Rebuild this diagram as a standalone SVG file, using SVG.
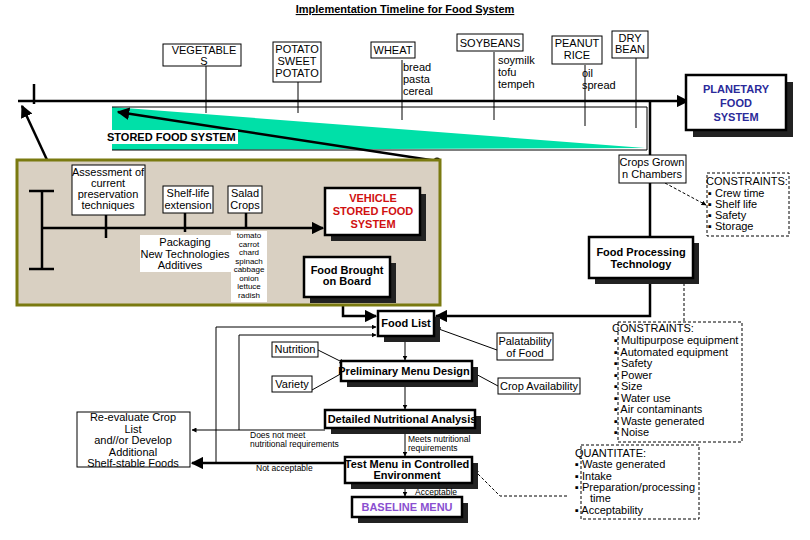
<svg xmlns="http://www.w3.org/2000/svg" width="810" height="540" viewBox="0 0 810 540">
<defs>
<marker id="ah" viewBox="0 0 10 10" refX="9" refY="5" markerWidth="5" markerHeight="5" orient="auto"><path d="M0,0L10,5L0,10z" fill="#000"/></marker>
<style>
text{font-family:"Liberation Sans",Arial,sans-serif;font-size:11px;fill:#000}
.b{font-weight:bold}
.box{fill:#fff;stroke:#000;stroke-width:1}
.tbox{fill:#fff;stroke:#000;stroke-width:2.5}
.sh{fill:#222}
.ln{stroke:#000;stroke-width:1;fill:none}
.th{stroke:#000;stroke-width:2.5;fill:none}
.da{stroke:#000;stroke-width:1;fill:none;stroke-dasharray:3,2}
.m{text-anchor:middle}
.sm{font-size:8px}
.lb{font-size:8.5px}
</style>
</defs>
<rect width="810" height="540" fill="#fff"/>
<text x="405" y="13" class="b m" font-size="12" text-decoration="underline">Implementation Timeline for Food System</text>

<g id="connectors">
<line x1="18" y1="101" x2="688" y2="101" class="th" marker-end="url(#ah)"/>
<line x1="34" y1="84" x2="34" y2="104" class="th"/>
<polygon points="112,107 645,148 112,150" fill="#00e0a8"/>
<polyline points="112,107 647,107 647,150 112,150" class="ln"/>
<line x1="206" y1="66" x2="206" y2="113" class="ln"/>
<line x1="298" y1="82" x2="298" y2="113" class="ln"/>
<line x1="402" y1="60" x2="402" y2="120" class="ln"/>
<line x1="494" y1="52" x2="494" y2="120" class="ln"/>
<line x1="585" y1="65" x2="585" y2="126" class="ln"/>
<line x1="636" y1="58" x2="636" y2="128" class="ln"/>
<line x1="437" y1="161" x2="118" y2="112" class="th" marker-end="url(#ah)"/>
<circle cx="437" cy="161" r="3.5"/>
<line x1="48" y1="162" x2="22" y2="106" class="th" marker-end="url(#ah)"/>
<line x1="650" y1="101" x2="650" y2="156" class="th"/>
<polyline points="650,183 650,316 436,316" class="th" marker-end="url(#ah)"/>
<line x1="665" y1="183" x2="706" y2="205" class="da" marker-end="url(#ah)"/>
<line x1="684" y1="278" x2="684" y2="322" class="da"/>
<polyline points="567,496 500,496 474,470" class="da" marker-end="url(#ah)"/>
<polyline points="343,297 343,316 376,316" class="th" marker-end="url(#ah)"/>
<line x1="343" y1="235" x2="343" y2="257" class="th"/>
<line x1="405" y1="338" x2="405" y2="360" class="ln" marker-end="url(#ah)"/>
<line x1="405" y1="381" x2="405" y2="409" class="ln" marker-end="url(#ah)"/>
<line x1="405" y1="428" x2="405" y2="456" class="ln" marker-end="url(#ah)"/>
<line x1="405" y1="483" x2="405" y2="496" class="ln" marker-end="url(#ah)"/>
<line x1="318" y1="350" x2="344" y2="363" class="ln" marker-end="url(#ah)"/>
<line x1="312" y1="390" x2="344" y2="372" class="ln" marker-end="url(#ah)"/>
<line x1="497" y1="350" x2="436" y2="328" class="ln" marker-end="url(#ah)"/>
<line x1="498" y1="386" x2="472" y2="372" class="ln" marker-end="url(#ah)"/>
<line x1="325" y1="430" x2="192" y2="430" class="ln" marker-end="url(#ah)"/>
<polyline points="239,430 239,335 376,335" class="ln" marker-end="url(#ah)"/>
<line x1="345" y1="463" x2="192" y2="463" class="th" marker-end="url(#ah)"/>
<polyline points="216,463 216,327 376,327" class="ln" marker-end="url(#ah)"/>
</g>

<g id="stored-label"><rect x="108" y="130" width="130" height="14" fill="#fff"/><text x="107" y="141" class="b">STORED FOOD SYSTEM</text></g>

<g id="veg"><rect x="163" y="44" width="78" height="22" class="box"/><text x="204" y="54" class="m">VEGETABLE</text><text x="204" y="65" class="m">S</text></g>
<g id="potato"><rect x="273" y="42" width="48" height="40" class="box"/><text x="297" y="53" class="m">POTATO</text><text x="297" y="65" class="m">SWEET</text><text x="297" y="77" class="m">POTATO</text></g>
<g id="wheat"><rect x="371" y="42" width="44" height="16" class="box"/><text x="393" y="54" class="m">WHEAT</text><text x="403" y="71">bread</text><text x="403" y="83">pasta</text><text x="403" y="95">cereal</text></g>
<g id="soy"><rect x="457" y="34" width="66" height="17" class="box"/><text x="490" y="47" class="m">SOYBEANS</text><text x="498" y="64">soymilk</text><text x="498" y="76">tofu</text><text x="498" y="88">tempeh</text></g>
<g id="peanut"><rect x="552" y="36" width="50" height="28" class="box"/><text x="577" y="47" class="m">PEANUT</text><text x="577" y="59" class="m">RICE</text><text x="582" y="77">oil</text><text x="582" y="89">spread</text></g>
<g id="drybean"><rect x="612" y="31" width="36" height="27" class="box"/><text x="630" y="42" class="m">DRY</text><text x="630" y="53" class="m">BEAN</text></g>
<g id="planetary"><rect x="693" y="82" width="100" height="55" class="sh"/><rect x="686" y="75" width="100" height="55" class="tbox"/><text x="736" y="93" class="b m" font-size="12" style="fill:#2a2a9a">PLANETARY</text><text x="736" y="107" class="b m" font-size="12" style="fill:#2a2a9a">FOOD</text><text x="736" y="121" class="b m" font-size="12" style="fill:#2a2a9a">SYSTEM</text></g>

<g id="panel">
<rect x="17" y="160" width="423" height="145" fill="#d9d0c2" stroke="#7a7a10" stroke-width="3"/>
<line x1="42" y1="191" x2="42" y2="269" class="th"/>
<line x1="29" y1="191" x2="54" y2="191" class="th"/>
<line x1="29" y1="269" x2="54" y2="269" class="th"/>
<line x1="42" y1="228" x2="323" y2="228" class="th" marker-end="url(#ah)"/>
<line x1="106" y1="215" x2="106" y2="238" class="th"/>
<line x1="185" y1="213" x2="185" y2="232" class="th"/>
<line x1="246" y1="213" x2="246" y2="228" class="th"/>
</g>
<g id="assess"><rect x="72" y="165" width="73" height="50" class="box"/><text x="108" y="176" class="m">Assessment of</text><text x="108" y="187" class="m">current</text><text x="108" y="198" class="m">preservation</text><text x="108" y="209" class="m">techniques</text></g>
<g id="shelf"><rect x="163" y="186" width="50" height="27" class="box"/><text x="188" y="197" class="m">Shelf-life</text><text x="188" y="209" class="m">extension</text></g>
<g id="salad"><rect x="228" y="186" width="34" height="27" class="box"/><text x="245" y="197" class="m">Salad</text><text x="245" y="209" class="m">Crops</text></g>
<g id="packaging"><rect x="140" y="235" width="92" height="37" fill="#fff"/><text x="185" y="246" class="m">Packaging</text><text x="185" y="258" class="m">New Technologies</text><text x="180" y="269" class="m">Additives</text></g>
<g id="saladlist"><rect x="231" y="231" width="36" height="71" fill="#fff"/>
<text x="249" y="238" class="m sm">tomato</text><text x="249" y="247" class="m sm">carrot</text><text x="249" y="255" class="m sm">chard</text><text x="249" y="264" class="m sm">spinach</text><text x="249" y="272" class="m sm">cabbage</text><text x="249" y="281" class="m sm">onion</text><text x="249" y="289" class="m sm">lettuce</text><text x="249" y="298" class="m sm">radish</text></g>
<g id="vehicle"><rect x="331" y="194" width="95" height="47" class="sh"/><rect x="325" y="188" width="95" height="47" class="tbox"/><text x="373" y="202" class="b m" font-size="12" style="fill:#d01010">VEHICLE</text><text x="373" y="215" class="b m" font-size="12" style="fill:#d01010">STORED FOOD</text><text x="373" y="228" class="b m" font-size="12" style="fill:#d01010">SYSTEM</text></g>
<g id="brought"><rect x="310" y="263" width="86" height="40" class="sh"/><rect x="304" y="257" width="86" height="40" class="tbox"/><text x="347" y="274" class="b m">Food  Brought</text><text x="347" y="285" class="b m">on Board</text></g>

<g id="crops"><rect x="619" y="155" width="67" height="28" class="box"/><text x="652" y="166" class="m">Crops Grown</text><text x="652" y="178" class="m">n Chambers</text></g>
<g id="c1"><rect x="707" y="173" width="82" height="63" class="da" fill="#fff"/><text x="706" y="185">CONSTRAINTS:</text>
<text x="708" y="197">▪ Crew time</text><text x="708" y="208">▪ Shelf life</text><text x="708" y="219">▪ Safety</text><text x="708" y="230">▪ Storage</text></g>
<g id="fpt"><rect x="595" y="243" width="104" height="41" class="sh"/><rect x="589" y="237" width="104" height="41" class="tbox"/><text x="641" y="256" class="b m">Food Processing</text><text x="641" y="268" class="b m">Technology</text></g>
<g id="c2"><rect x="618" y="322" width="124" height="120" class="da" fill="#fff"/><text x="612" y="332">CONSTRAINTS:</text>
<text x="614" y="344">▪ Multipurpose equipment</text><text x="614" y="356">▪ Automated equipment</text><text x="614" y="367">▪ Safety</text><text x="614" y="379">▪ Power</text><text x="614" y="390">▪ Size</text><text x="614" y="402">▪ Water use</text><text x="614" y="413">▪ Air contaminants</text><text x="614" y="425">▪ Waste generated</text><text x="614" y="436">▪ Noise</text></g>
<g id="quant"><rect x="581" y="445" width="118" height="74" class="da" fill="#fff"/><text x="575" y="457">QUANTITATE:</text>
<text x="575" y="468">▪ Waste generated</text><text x="575" y="480">▪ Intake</text><text x="575" y="491">▪ Preparation/processing</text><text x="590" y="502">time</text><text x="575" y="514">▪ Acceptability</text></g>

<g id="foodlist"><rect x="384" y="317" width="56" height="25" class="sh"/><rect x="378" y="311" width="56" height="25" class="tbox"/><text x="406" y="327" class="b m">Food List</text></g>
<g id="prelim"><rect x="347" y="367" width="131" height="20" class="sh"/><rect x="341" y="361" width="131" height="20" class="tbox"/><text x="404" y="375" class="b m">Preliminary Menu Design</text></g>
<g id="detailed"><rect x="331" y="416" width="150" height="18" class="sh"/><rect x="325" y="410" width="150" height="18" class="tbox"/><text x="402" y="423" class="b m">Detailed Nutritional Analysis</text></g>
<g id="test"><rect x="351" y="463" width="127" height="26" class="sh"/><rect x="345" y="457" width="127" height="26" class="tbox"/><text x="407" y="468" class="b m">Test Menu in Controlled</text><text x="407" y="479" class="b m">Environment</text></g>
<g id="baseline"><rect x="358" y="503" width="110" height="20" class="sh"/><rect x="352" y="497" width="110" height="20" class="tbox"/><text x="407" y="511" class="b m" font-size="12" style="fill:#8a4fd0">BASELINE MENU</text></g>
<g id="nutrition"><rect x="272" y="342" width="46" height="15" class="box"/><text x="295" y="353" class="m">Nutrition</text></g>
<g id="variety"><rect x="272" y="376" width="40" height="16" class="box"/><text x="292" y="388" class="m">Variety</text></g>
<g id="palat"><rect x="497" y="333" width="56" height="27" class="box"/><text x="525" y="345" class="m">Palatability</text><text x="525" y="357" class="m">of Food</text></g>
<g id="cropavail"><rect x="498" y="378" width="82" height="16" class="box"/><text x="539" y="390" class="m">Crop Availability</text></g>
<g id="reeval"><rect x="77" y="412" width="113" height="55" class="box"/><text x="133" y="421" class="m">Re-evaluate Crop</text><text x="133" y="433" class="m">List</text><text x="133" y="444" class="m">and//or Develop</text><text x="133" y="456" class="m">Additional</text><text x="133" y="467" class="m">Shelf-stable Foods</text></g>
<g id="labels">
<text x="250" y="438" class="lb">Does not meet</text><text x="250" y="447" class="lb">nutritional requirements</text>
<text x="256" y="471" class="lb">Not acceptable</text>
<text x="408" y="442" class="lb">Meets nutritional</text><text x="408" y="451" class="lb">requirements</text>
<text x="415" y="495" class="lb">Acceptable</text>
</g>
</svg>
